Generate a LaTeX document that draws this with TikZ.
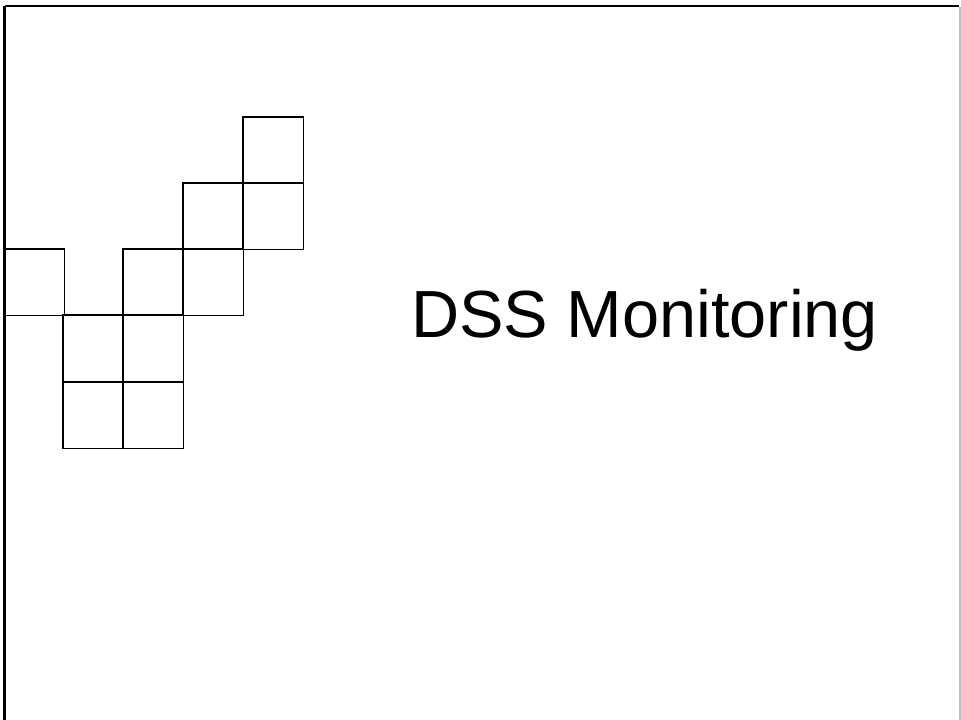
\documentclass[tikz,border=0pt]{standalone}
\usepackage{fontspec}
\setmainfont{Liberation Sans}
\begin{document}
\begin{tikzpicture}[x=0.75pt,y=-0.75pt]
      \useasboundingbox (0,0) rectangle (961,720);
      \coordinate (tl) at (4.5,6);
      \coordinate (tr) at (959,6);
      \coordinate (bl) at (4.5,720);
      \coordinate (rt) at (960,7);
      \coordinate (rb) at (960,720);
      \draw[line width=1.6pt] (tl) -- (tr);
      \draw[line width=2.2pt] (bl) -- (tl);
      \draw[gray!50,line width=0.9pt] (rt) -- (rb);
      \begin{scope}[line width=0.8pt]
        \foreach \x/\y in {243/117,183/183,243/183,4/249,123/249,183/249,
                           63/315,123/315,63/382,123/382}
          \draw (\x,\y) rectangle ++(60.5,66.5);
      \end{scope}
      \node[anchor=base west,inner sep=0pt,font=\fontsize{50}{60}\selectfont]
        (title) at (411,338) {DSS Monitoring};
    \end{tikzpicture}
\end{document}
